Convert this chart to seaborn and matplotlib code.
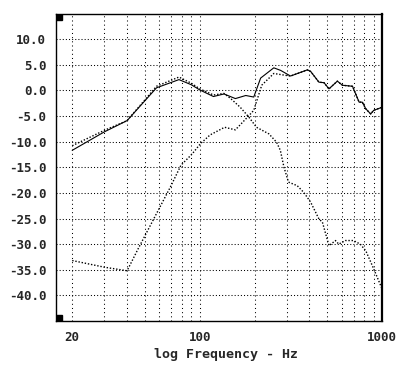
import numpy as np
import pandas as pd
import seaborn as sns
import matplotlib.pyplot as plt
from matplotlib.patches import Rectangle

# system response (solid)
total_freq = [20, 30, 40, 58, 77, 90, 100, 119, 136, 157, 179, 198, 216, 255, 278,
              315, 390, 406, 451, 481, 512, 569, 607, 689, 749, 780, 815, 867, 900, 1000]
total_db = [-11.7, -8.1, -5.9, 0.5, 2.1, 1.1, 0.1, -1.2, -0.7, -1.6, -1.0, -1.3, 2.4, 4.4, 3.9,
            2.8, 4.0, 3.7, 1.6, 1.5, 0.3, 1.8, 1.0, 0.8, -2.3, -2.3, -3.6, -4.6, -3.9, -3.3]

# woofer (dotted)
woofer_freq = [20, 30, 40, 58, 77, 90, 100, 119, 136, 148, 167, 186, 205, 240, 264, 277,
               290, 307, 343, 372, 406, 451, 471, 512, 556, 579, 630, 697, 760, 815, 900, 1000]
woofer_db = [-10.8, -7.8, -5.9, 0.8, 2.6, 1.4, 0.3, -0.9, -0.6, -1.6, -3.3, -5.2, -7.2, -8.5, -10.1, -11.7,
             -15.0, -17.9, -18.6, -19.9, -21.8, -25.1, -25.7, -30.3, -29.3, -30.0, -29.3, -29.3, -30.0, -31.3, -34.8, -38.7]

# tweeter (dotted)
tweeter_freq = [20, 30, 40, 46, 69, 79, 91, 101, 114, 137, 157, 181, 198, 219, 255, 300,
                315, 390, 406, 451, 481, 512, 569, 607, 689, 749, 780, 815, 867, 900, 1000]
tweeter_db = [-33.2, -34.5, -35.2, -30.9, -18.9, -14.6, -12.4, -10.4, -8.7, -7.2, -7.7, -5.4, -3.9, 1.0, 3.3, 2.9,
              2.8, 4.0, 3.7, 1.6, 1.5, 0.3, 1.8, 1.0, 0.8, -2.3, -2.3, -3.6, -4.6, -3.9, -3.3]

y_ticks = [-40, -35, -30, -25, -20, -15, -10, -5, 0, 5, 10]
x_major = [20, 100, 1000]
x_minor = [30, 40, 50, 60, 70, 80, 90, 200, 300, 400, 500, 600, 700, 800, 900]

sns.set_style("white")
plt.rcParams['font.family'] = ['DejaVu Sans Mono']

fig = plt.figure(figsize=(3.97, 3.75), dpi=100)
ax = fig.add_axes([56 / 397, 1 - 321 / 375, 326 / 397, 307.5 / 375])

tot = pd.DataFrame({'f': total_freq, 'db': total_db})
woof = pd.DataFrame({'f': woofer_freq, 'db': woofer_db})
tw = pd.DataFrame({'f': tweeter_freq, 'db': tweeter_db})

dots = (0, (1, 1.3))
sns.lineplot(data=woof, x='f', y='db', ax=ax, color='black', lw=1.0, linestyle=dots)
sns.lineplot(data=tw, x='f', y='db', ax=ax, color='black', lw=1.0, linestyle=dots)
sns.lineplot(data=tot, x='f', y='db', ax=ax, color='black', lw=0.8)

ax.set_xscale('log')
ax.set_xlim(16.3, 1000)
ax.set_ylim(-45, 15)

ax.set_xticks(x_major)
ax.set_xticklabels([str(v) for v in x_major])
ax.set_xticks(x_minor, minor=True)
ax.set_xticklabels([], minor=True)
ax.set_yticks(y_ticks)
ax.set_yticklabels(['%.1f' % v for v in y_ticks])

ax.grid(True, which='both', axis='x', color='black', lw=0.75, linestyle=(0, (1, 3)))
ax.grid(True, which='major', axis='y', color='black', lw=0.75, linestyle=(0, (1, 2)))

ax.tick_params(axis='x', which='major', direction='out', length=5.5, width=1, color='black',
               labelsize=9, pad=2)
ax.tick_params(axis='x', which='minor', direction='out', length=3, width=1, color='black')
ax.tick_params(axis='y', length=0, labelsize=9, pad=7)
for lab in ax.get_xticklabels() + ax.get_yticklabels():
    lab.set_fontweight('bold')

for side in ['left', 'bottom', 'top']:
    ax.spines[side].set_color('black')
    ax.spines[side].set_linewidth(1)
ax.spines['right'].set_color('black')
ax.spines['right'].set_linewidth(1.6)

ax.set_ylabel('')
ax.set_xlabel('log Frequency - Hz', fontsize=9.5, fontweight='bold')
ax.xaxis.set_label_coords(0.52, -0.088)

w, h = 6 / 326, 6 / 307.5
ax.add_patch(Rectangle((0, 1 - h), w, h, transform=ax.transAxes, color='black', zorder=5))
ax.add_patch(Rectangle((0, 0), w, h, transform=ax.transAxes, color='black', zorder=5))

fig.savefig('out.png', dpi=100, facecolor='white')
